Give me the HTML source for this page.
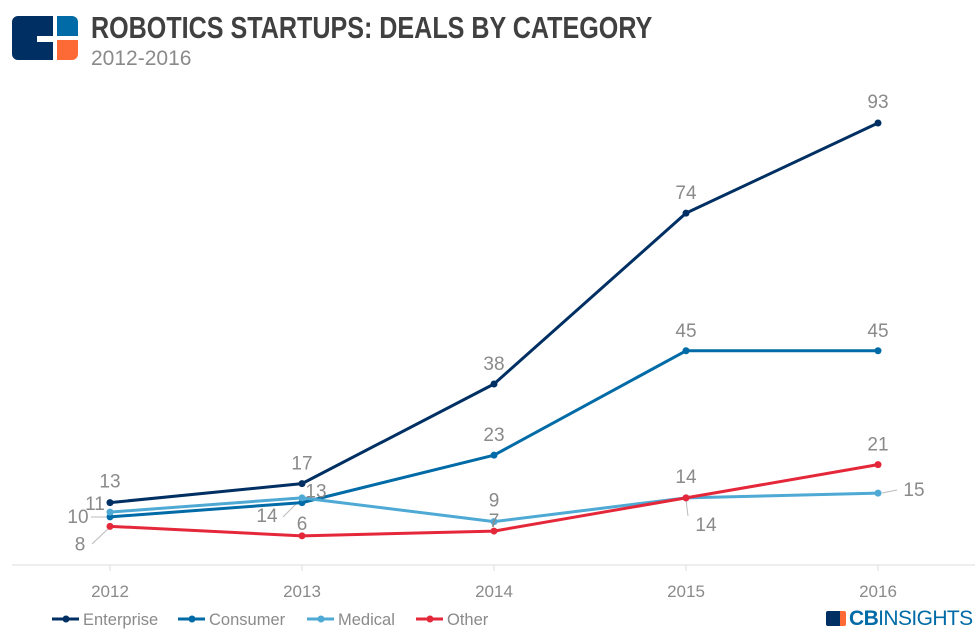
<!DOCTYPE html>
<html><head><meta charset="utf-8"><style>
body{margin:0;width:980px;height:643px;background:#fff;font-family:"Liberation Sans",sans-serif;overflow:hidden;position:relative}
.t{position:absolute;left:91px;top:10px;font-size:31px;font-weight:bold;color:#404040;transform:scaleX(0.81);transform-origin:left top;white-space:nowrap}
.s{position:absolute;left:91px;top:47px;font-size:21px;color:#8a8a8a}
</style></head><body>
<svg width="80" height="65" style="position:absolute;left:0;top:0">
<path d="M18,16 h35 v20 h-16 v6 h16 v18 h-35 a6,6 0 0 1 -6,-6 v-32 a6,6 0 0 1 6,-6z" fill="#003063"/>
<path d="M57,16 h15 a6,6 0 0 1 6,6 v14 h-21z" fill="#006ba6"/>
<path d="M57,40 h21 v14 a6,6 0 0 1 -6,6 h-15z" fill="#fe6a35"/>
</svg>
<div class="t">ROBOTICS STARTUPS: DEALS BY CATEGORY</div>
<div class="s">2012-2016</div>
<svg id="c" width="980" height="643" style="position:absolute;left:0;top:0" font-family="Liberation Sans, sans-serif"></svg>
<div style="position:absolute;left:826px;top:608px;font-size:21px;color:#006ba6;white-space:nowrap;letter-spacing:-0.6px;line-height:22px"><span style="display:inline-block;width:14px;height:15px;background:#003063;margin-right:3px;border-radius:2px;vertical-align:-1px;border-right:6px solid #fe6a35"></span><b>CB</b>INSIGHTS</div>
<script>
const years=["2012","2013","2014","2015","2016"];
const enterprise=[13,17,38,74,93];
const consumer=[10,13,23,45,45];
const medical=[11,14,9,14,15];
const other=[8,6,7,14,21];
const seriesNames=["Enterprise","Consumer","Medical","Other"];
const colors=["#003063","#006ba6","#4ea9d4","#e5273a"];
const svg=document.getElementById('c');const NS="http://www.w3.org/2000/svg";
function X(i){return 110+i*192}
function Y(v){return 564.3-v*4.745}
function mk(t,a,p){const e=document.createElementNS(NS,t);for(const k in a)e.setAttribute(k,a[k]);(p||svg).appendChild(e);return e}
let ax=mk('line',{x1:12,x2:975,y1:565,y2:565,stroke:'#ddd','stroke-width':1});


years.forEach((y,i)=>{
 let tk=mk('line',{x1:X(i),x2:X(i),y1:565,y2:571,stroke:'#ddd'});
 
 
 let t=mk('text',{x:X(i),y:597,'text-anchor':'middle','font-size':17,fill:'#8a8a8a'});t.textContent=y;
 
 
});
const all=[enterprise,consumer,medical,other];
const off=[[[0,-15],[0,-14],[0,-14],[0,-14],[0,-15]],[[-32,6],[14,-5],[0,-14],[0,-14],[0,-14]],[[-15,-2],[-35,24],[0,-15],[20,33],[36,3]],[[-30,24],[0,-6],[0,-4],[0,-15],[0,-14]]];
const leaders=[[92,544,110,527],[91,517,106,517],[283,517,300,500],[688,516,686,500],[882,493,897,490]];
leaders.forEach(l=>{
 let ln=mk('line',{x1:l[0],y1:l[1],x2:l[2],y2:l[3],stroke:'#bbb','stroke-width':1});
 
 
});
all.forEach((s,si)=>{
 let p=mk('polyline',{points:s.map((v,i)=>X(i)+','+Y(v)).join(' '),fill:'none',stroke:colors[si],'stroke-width':3,'stroke-linejoin':'round'});
 
 
});
all.forEach((s,si)=>{
 s.forEach((v,i)=>{
  let c=mk('circle',{cx:X(i),cy:Y(v),r:3.5,fill:colors[si]});
  
  
  let o=off[si][i];
  let t=mk('text',{x:X(i)+o[0],y:Y(v)+o[1],'text-anchor':'middle','font-size':19,fill:'#8a8a8a'});t.textContent=v;
  
  
 });
});
let lx=[52,178,307,416];
seriesNames.forEach((n,i)=>{
 let g=mk('g',{});
 
 
 mk('line',{x1:lx[i],x2:lx[i]+27,y1:619,y2:619,stroke:colors[i],'stroke-width':3},g);
 mk('circle',{cx:lx[i]+14,cy:619,r:3.5,fill:colors[i]},g);
 let t=mk('text',{x:lx[i]+31,y:625,'font-size':16.5,fill:'#8a8a8a'},g);t.textContent=n;
});
</script>
</body></html>
